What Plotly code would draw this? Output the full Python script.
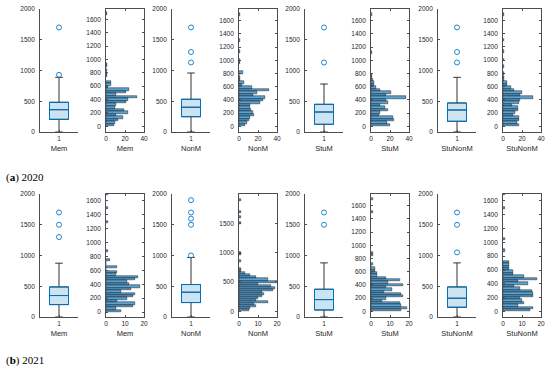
import plotly.graph_objects as go

W, H = 550, 366

names = ["Mem", "NonM", "StuM", "StuNonM"]

# ---- box-plot statistics ----
q1_20 = [206, 249, 125, 174]
med_20 = [363, 402, 325, 358]
q3_20 = [483, 532, 450, 472]
lo_20 = [0, 0, 0, 0]
hi_20 = [889, 959, 780, 889]
out_20 = [[930, 1700], [1130, 1300, 1700], [1130, 1700], [1130, 1300, 1700]]

q1_21 = [202, 235, 114, 158]
med_21 = [349, 403, 283, 305]
q3_21 = [489, 528, 451, 489]
lo_21 = [0, 0, 0, 0]
hi_21 = [875, 968, 880, 880]
out_21 = [[1300, 1500, 1700], [1000, 1500, 1600, 1700, 1900], [1500, 1700], [1050, 1500, 1700]]

# ---- histogram counts (bins from 0) ----
bin_20 = 38
mem20 = [8, 9, 13, 18, 11, 23, 19, 9, 11, 21, 23, 33, 11, 21, 24, 2, 5, 5]
nonm20 = [6, 8, 10, 12, 16, 15, 13, 12, 12, 22, 25, 27, 15, 19, 32, 14, 3, 5, 1, 1, 0, 4]
stum20 = [20, 17, 24, 23, 8, 9, 18, 15, 9, 18, 16, 37, 16, 21, 9, 5, 3, 3, 2, 1, 1]
stunonm20 = [17, 15, 17, 17, 11, 13, 16, 16, 9, 17, 18, 32, 18, 20, 12, 8, 4, 4, 1, 1]
sparse20 = [[760, 800, 840, 900, 930, 1690], [960, 1000, 1130, 1300, 1690],
            [1120, 1690], [800, 900, 1000, 1130, 1300, 1690]]

bin_21 = 35
mem21 = [8, 5, 14, 15, 6, 11, 14, 15, 8, 13, 18, 12, 11, 15, 17, 5, 6, 0, 6, 0, 0, 2]
nonm21 = [5, 6, 9, 8, 15, 9, 10, 12, 13, 12, 18, 19, 17, 10, 21, 15, 9, 6, 3, 1, 1]
stum21 = [16, 19, 16, 15, 6, 8, 17, 16, 7, 11, 8, 17, 9, 15, 8, 3, 3, 2, 2, 0, 1]
stunonm21 = [14, 16, 8, 11, 10, 9, 16, 16, 15, 9, 6, 13, 8, 18, 11, 5, 5, 3, 3, 3, 3]
sparse21 = [[880, 1300, 1500, 1700], [850, 975, 1000, 1500, 1600, 1700, 1900],
            [850, 880, 1500, 1700], [880, 1050, 1500, 1700]]

hist_xmax = [40, 20]
hist_xticks = [[0, 20, 40], [0, 10, 20]]
hist_yrange_20 = [[-85, 1755], [-85, 1775], [-85, 1775], [-85, 1770]]
hist_yrange_21 = [[-72, 1700], [-97, 2000], [-86, 1775], [-80, 1700]]
captions = ["(<b>a</b>) 2020", "(<b>b</b>) 2021"]

rows = [
    dict(q1=q1_20, med=med_20, q3=q3_20, lo=lo_20, hi=hi_20, out=out_20,
         counts=[mem20, nonm20, stum20, stunonm20], sparse=sparse20, bw=bin_20,
         yr=hist_yrange_20),
    dict(q1=q1_21, med=med_21, q3=q3_21, lo=lo_21, hi=hi_21, out=out_21,
         counts=[mem21, nonm21, stum21, stunonm21], sparse=sparse21, bw=bin_21,
         yr=hist_yrange_21),
]

col_left = [40, 106, 172, 239, 305, 371, 438, 503]
col_w = 38
row_top = [9, 194]
row_bot = [132, 317]

BLUE = "#0072BD"
TXT = "#262626"
AX = "#4d4d4d"
FONT = "Liberation Sans, Arial, sans-serif"

fig = go.Figure()
layout = {}

def ax_name(i):
    return "" if i == 0 else str(i + 1)

for r, rd in enumerate(rows):
    for k in range(4):
        for kind in range(2):
            c = 2 * k + kind
            i = r * 8 + c
            sfx = ax_name(i)
            xref = "x" + sfx
            yref = "y" + sfx
            xdom = [col_left[c] / W, (col_left[c] + col_w) / W]
            ydom = [1 - row_bot[r] / H, 1 - row_top[r] / H]
            common = dict(showgrid=False, zeroline=False, showline=True, automargin=False,
                          linecolor=AX, linewidth=0.8, ticks="inside", ticklen=2.5,
                          tickcolor=AX, tickwidth=0.8,
                          tickfont=dict(family=FONT, size=6.5, color=TXT))
            if kind == 0:
                # box plot
                fig.add_trace(go.Box(
                    x=[1], q1=[rd["q1"][k]], median=[rd["med"][k]], q3=[rd["q3"][k]],
                    lowerfence=[rd["lo"][k]], upperfence=[rd["hi"][k]],
                    boxpoints=False, width=0.5, whiskerwidth=0.4,
                    line=dict(color="#333333", width=1), fillcolor="rgba(0,0,0,0)",
                    xaxis=xref, yaxis=yref, showlegend=False, hoverinfo="skip"))
                fig.add_trace(go.Box(
                    x=[1], q1=[rd["q1"][k]], median=[rd["med"][k]], q3=[rd["q3"][k]],
                    lowerfence=[rd["q1"][k]], upperfence=[rd["q3"][k]],
                    boxpoints=False, width=0.5, whiskerwidth=0.01,
                    line=dict(color=BLUE, width=1), fillcolor="rgba(0,114,189,0.2)",
                    xaxis=xref, yaxis=yref, showlegend=False, hoverinfo="skip"))
                outs = rd["out"][k]
                fig.add_trace(go.Scatter(
                    x=[1] * len(outs), y=outs, mode="markers",
                    marker=dict(symbol="circle-open", size=5, color="#1f86d0",
                                line=dict(width=1, color="#1f86d0")),
                    xaxis=xref, yaxis=yref, showlegend=False, cliponaxis=False))
                layout["xaxis" + sfx] = dict(common, domain=xdom, anchor=yref,
                                             range=[0.5, 1.5], tickvals=[1], ticktext=["1"],
                                             mirror=False,
                                             title=dict(text=names[k], standoff=5,
                                                        font=dict(family=FONT, size=7.5, color=TXT)))
                layout["yaxis" + sfx] = dict(common, domain=ydom, anchor=xref,
                                             range=[0, 2000], tickvals=[0, 500, 1000, 1500, 2000],
                                             mirror=False, ticklabelstandoff=3)
            else:
                bw = rd["bw"]
                cnts = rd["counts"][k]
                ys = [bw * (j + 0.5) for j in range(len(cnts))]
                sp = rd["sparse"][k]
                fig.add_trace(go.Bar(
                    orientation="h", y=ys + sp, x=cnts + [1] * len(sp), width=bw,
                    marker=dict(color="rgba(0,114,189,0.65)",
                                line=dict(color="#1a1a1a", width=0.5)),
                    xaxis=xref, yaxis=yref, showlegend=False, hoverinfo="skip"))
                if r == 1 and k == 1:
                    yt = [0, 500, 1000, 1500]
                else:
                    yt = list(range(0, 1601, 200))
                layout["xaxis" + sfx] = dict(common, domain=xdom, anchor=yref,
                                             range=[0, hist_xmax[r]], tickvals=hist_xticks[r],
                                             mirror="ticks",
                                             title=dict(text=names[k], standoff=5,
                                                        font=dict(family=FONT, size=7.5, color=TXT)))
                layout["yaxis" + sfx] = dict(common, domain=ydom, anchor=xref,
                                             range=rd["yr"][k], tickvals=yt,
                                             mirror="ticks", ticklabelstandoff=3)

annotations = []
for r, cap in enumerate(captions):
    ypx = [177, 360][r]
    annotations.append(dict(text=cap, x=4 / W, y=1 - ypx / H, xref="paper", yref="paper",
                            xanchor="left", yanchor="middle", showarrow=False,
                            font=dict(family="Liberation Serif, Times New Roman, serif",
                                      size=11, color="#000000")))

fig.update_layout(width=W, height=H, margin=dict(l=0, r=0, t=0, b=0),
                  paper_bgcolor="white", plot_bgcolor="white",
                  bargap=0, boxmode="overlay", annotations=annotations, **layout)

fig.write_html("out.html", config={"displayModeBar": False},
               post_script="document.body.style.margin='0';document.body.style.overflow='hidden';")
